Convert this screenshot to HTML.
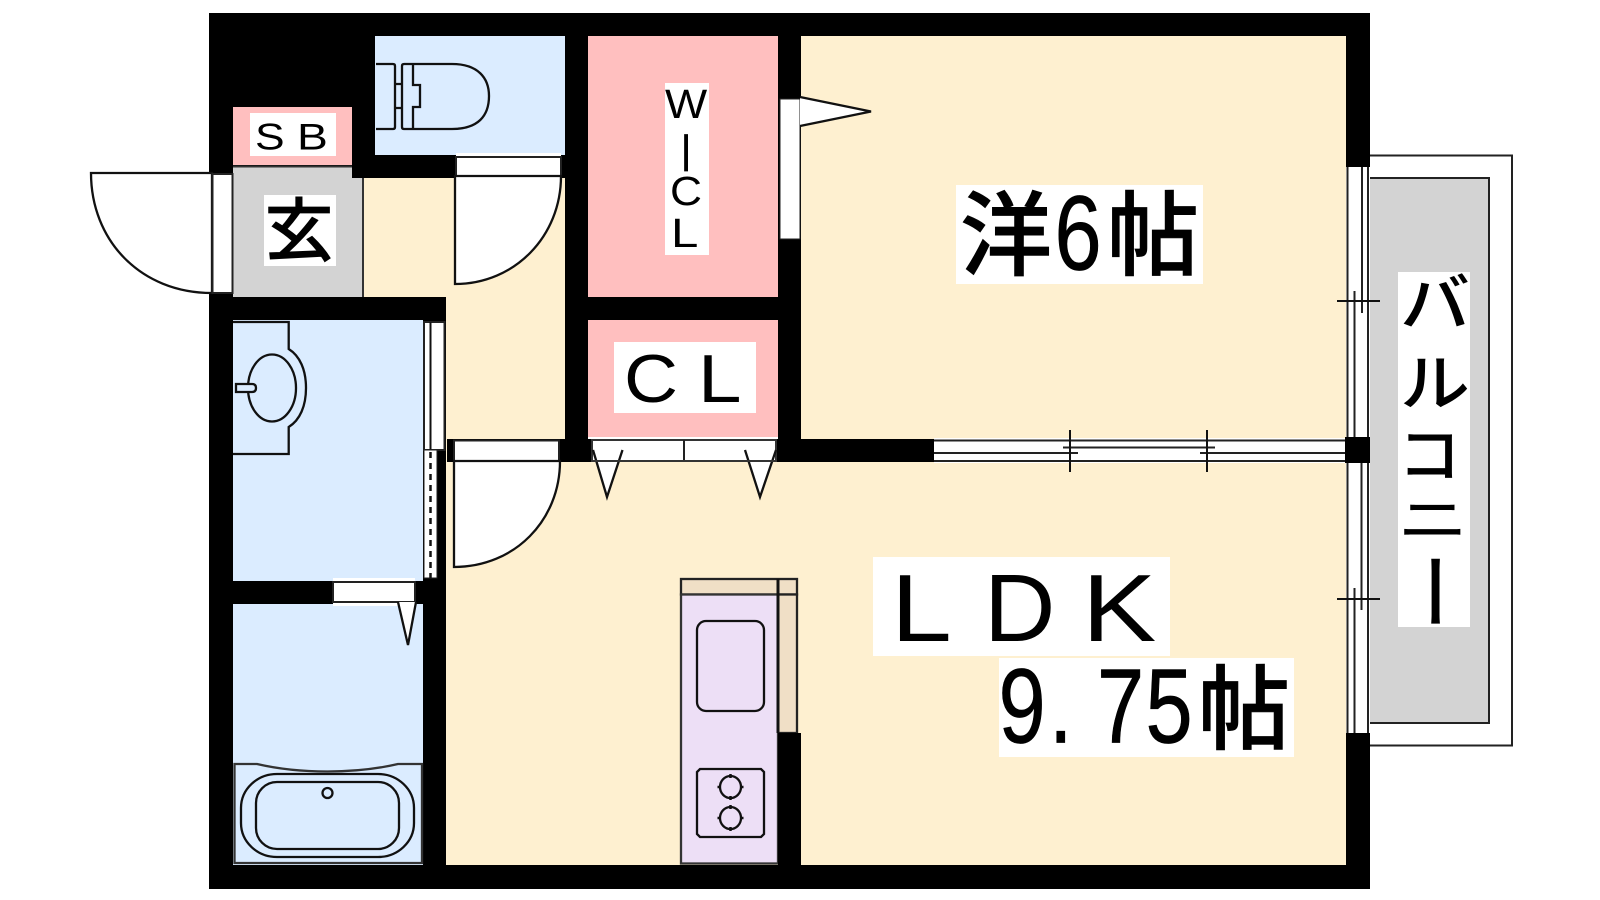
<!DOCTYPE html>
<html lang="ja">
<head>
<meta charset="utf-8">
<title>間取り図</title>
<style>
html,body{margin:0;padding:0;background:#fff;width:1600px;height:900px;overflow:hidden}
svg{display:block}
.l{font-family:"Liberation Sans",sans-serif;fill:#000}
.j{font-family:"Noto Sans CJK JP","Liberation Sans",sans-serif;fill:#000}
.h{stroke:#000;stroke-width:.7}
</style>
</head>
<body>
<svg xmlns="http://www.w3.org/2000/svg" width="1600" height="900" viewBox="0 0 1600 900">
<rect width="1600" height="900" fill="#fff"/>

<!-- balcony -->
<rect x="1360" y="155.500" width="152" height="590" fill="#fff" stroke="#222" stroke-width="2"/>
<rect x="1360" y="178" width="129" height="545" fill="#d3d3d3" stroke="#222" stroke-width="2"/>

<!-- walls -->
<rect x="209" y="13" width="1161" height="876" fill="#000"/>

<!-- rooms -->
<rect x="375" y="36" width="190" height="119" fill="#dbecff"/>
<rect x="588" y="36" width="190" height="261" fill="#ffbfbf"/>
<rect x="588" y="320" width="190" height="119" fill="#ffbfbf"/>
<rect x="801" y="36" width="545" height="403" fill="#fef0d0"/>
<rect x="233" y="107" width="119" height="58" fill="#ffbfbf"/>
<path d="M233 167H352V178H363V297H233Z" fill="#d3d3d3"/>
<path d="M363 178H565V439H446V297H363Z" fill="#fef0d0"/>
<rect x="233" y="320" width="190" height="261" fill="#dbecff"/>
<rect x="233" y="604" width="190" height="261" fill="#dbecff"/>
<rect x="446" y="462" width="900" height="403" fill="#fef0d0"/>
<rect x="778" y="733" width="23" height="156" fill="#000"/>
<path d="M233 166.500H352M363 178V297" stroke="#333" stroke-width="2" fill="none"/>

<!-- LDK door notch -->
<rect x="446" y="439" width="1" height="23" fill="#fef0d0"/>
<rect x="447" y="439" width="7" height="23" fill="#000"/>

<!-- toilet -->
<g fill="none" stroke="#111" stroke-width="2.300">
<path d="M376 64H393Q395 64 395 66V127Q395 129 393 129H376"/>
<path d="M395 84H402M395 108H402"/>
<path d="M404 64H452C478 64 489 78 489 96C489 116 478 129 452 129H404Q402 129 402 127V66Q402 64 404 64Z"/>
<path d="M413 64V85H420V107H413V129"/>
</g>

<!-- entry door -->
<path d="M212 173H91C91 240 140 293 212 293Z" fill="#fff" stroke="#111" stroke-width="2.300"/>
<rect x="212.500" y="174" width="20" height="119" fill="#fff" stroke="#222" stroke-width="2"/>

<!-- toilet door -->
<rect x="456" y="153" width="105" height="4" fill="#fff"/>
<rect x="456" y="157" width="105" height="19" fill="#fff" stroke="#222" stroke-width="2"/>
<path d="M455 176H561C561 236 515 284 455 284Z" fill="#fff" stroke="#111" stroke-width="2.300"/>

<!-- WIC window + door -->
<rect x="780" y="99" width="20" height="140" fill="#fff" stroke="#222" stroke-width="1"/>
<path d="M800 97L871 111.500L800 126" fill="#fff" stroke="#111" stroke-width="2.300"/>

<!-- washroom -->
<g fill="none" stroke="#111" stroke-width="2.300">
<path d="M233 322H288.700V349C300 356 306 370 306 388C306 406 300 420 288.700 427V454H233"/>
<ellipse cx="272" cy="388" rx="24" ry="33.500"/>
<path d="M236 384H252Q256 384 256 388Q256 392 252 392H236Z" fill="#dbecff"/>
</g>
<rect x="424" y="322" width="20.500" height="128" fill="#fff" stroke="#222" stroke-width="2"/>
<path d="M430.500 322V450" stroke="#111" stroke-width="2"/>
<rect x="424" y="450" width="13" height="128" fill="#fff" stroke="#222" stroke-width="1"/>
<path d="M430.500 452V578" stroke="#111" stroke-width="2.500" stroke-dasharray="6 5"/>

<!-- bath door -->
<rect x="333" y="578" width="82" height="28" fill="#fff"/>
<rect x="333" y="582" width="82" height="20" fill="#fff" stroke="#222" stroke-width="2"/>
<path d="M398 602L408 645L416 602" fill="#fff" stroke="#111" stroke-width="2.300"/>

<!-- tub -->
<g fill="none" stroke="#111" stroke-width="2.300">
<path d="M234.500 764H257C300 774 355 774 398 764H422V863H234.500Z" stroke="#333"/>
<rect x="241" y="774" width="173" height="83" rx="36" ry="34"/>
<rect x="256" y="782" width="143" height="67" rx="21" ry="21"/>
<circle cx="327.500" cy="793" r="5"/>
</g>

<!-- LDK door -->
<rect x="454" y="440.500" width="105" height="20.500" fill="#fff" stroke="#222" stroke-width="2"/>
<path d="M454 461H560C560 520 515 567 454 567Z" fill="#fff" stroke="#111" stroke-width="2.300"/>

<!-- CL sliding doors -->
<rect x="588" y="437" width="190" height="2" fill="#fff"/>
<rect x="592" y="440" width="184" height="21" fill="#fff" stroke="#333" stroke-width="2"/>
<path d="M684 440V461" stroke="#222" stroke-width="2"/>
<path d="M593 450L607 497L622.500 450" fill="#fff" stroke="none"/>
<path d="M745 450L760 497L776 450" fill="#fff" stroke="none"/>
<path d="M593 450L607 497L622.500 450M745 450L760 497L776 450" fill="none" stroke="#111" stroke-width="2.300"/>
<path d="M593 461H776" stroke="#333" stroke-width="2"/>

<!-- horizontal window -->
<rect x="934" y="438" width="411" height="25" fill="#fff"/>
<path d="M934 440.500H1345M934 461H1345M934 453H1078M1200 453H1345M1063 447.500H1215" stroke="#222" stroke-width="2" fill="none"/>
<path d="M1070 430V472M1207 430V472" stroke="#111" stroke-width="2" fill="none"/>

<!-- right windows -->
<rect x="1346" y="167" width="24" height="270" fill="#fff"/>
<rect x="1346" y="463" width="24" height="270" fill="#fff"/>
<path d="M1347.500 167V437M1368 167V437M1362 167V313M1354.500 291V437M1347.500 463V733M1368 463V733M1361.500 463V610M1354.500 588V733" stroke="#222" stroke-width="2" fill="none"/>
<path d="M1337 301H1380M1337 599H1380" stroke="#111" stroke-width="2" fill="none"/>
<rect x="1345" y="437" width="25" height="26" fill="#000"/>

<!-- kitchen -->
<rect x="681" y="579" width="116" height="15.500" fill="#f0dfc6" stroke="#222" stroke-width="2.300"/>
<rect x="778" y="594.500" width="19" height="138.500" fill="#f0dfc6" stroke="#222" stroke-width="2.300"/>
<rect x="681" y="594.500" width="97" height="269" fill="#eddff6" stroke="#333" stroke-width="2.300"/>
<path d="M778 579V733" stroke="#111" stroke-width="3"/>
<rect x="778" y="733" width="23" height="132" fill="#000"/>
<g fill="none" stroke="#111" stroke-width="2.300">
<rect x="697" y="621" width="67" height="90" rx="9" ry="9"/>
<path d="M700 769H761L764 772V834L761 837H700L697 834V772Z"/>
<ellipse cx="730.500" cy="787" rx="10.500" ry="11"/>
<ellipse cx="730.500" cy="818" rx="10.500" ry="11"/>
<path d="M730.500 774V778M730.500 796V800M717.500 787H721M740 787H743.500M730.500 805V809M730.500 827V831M717.500 818H721M740 818H743.500" stroke-width="2.500"/>
</g>

<!-- label backgrounds -->
<g fill="#fff">
<rect x="250" y="113" width="86" height="43"/>
<rect x="264" y="195" width="72" height="71"/>
<rect x="665" y="83" width="44" height="172"/>
<rect x="614" y="342" width="142" height="71"/>
<rect x="956" y="185" width="247" height="99"/>
<rect x="873" y="557" width="297" height="99"/>
<rect x="999" y="658" width="295" height="99"/>
<rect x="1398" y="272" width="72" height="355"/>
</g>

<!-- labels -->
<text class="l" transform="translate(255,149.500) scale(1.2,1)" font-size="37">S</text>
<text class="l" transform="translate(297,149.500) scale(1.25,1)" font-size="37">B</text>
<text class="j h" x="265" y="255" font-size="68" style="stroke-width:1.800">玄</text>
<text class="l" transform="translate(665,118) scale(1.09,1)" font-size="41">W</text>
<text class="l h" x="681" y="163" font-size="39">|</text>
<text class="l" transform="translate(670,205) scale(1.08,1)" font-size="41">C</text>
<text class="l" transform="translate(671,247) scale(1.2,1)" font-size="41">L</text>
<text class="l" transform="translate(624,402) scale(1.1,1)" font-size="68">C</text>
<text class="l" transform="translate(698,402) scale(1.15,1)" font-size="68">L</text>

<text class="j h" x="960" y="268" font-size="92" font-weight="500">洋</text>
<text class="l h" transform="translate(1054.500,269.500) scale(.8,1)" font-size="106">6</text>
<text class="j h" x="1107" y="268" font-size="92" font-weight="500">帖</text>

<text class="l" transform="translate(891,641) scale(1.14,1)" font-size="96">L</text>
<text class="l" transform="translate(984,641) scale(1.03,1)" font-size="96">D</text>
<text class="l" transform="translate(1082,641) scale(1.16,1)" font-size="96">K</text>

<text class="l h" transform="translate(998.500,742.500) scale(.8,1)" font-size="106">9</text>
<text class="l h" transform="translate(1049,742.500) scale(.8,1)" font-size="106">.</text>
<text class="l h" transform="translate(1097,742.500) scale(.8,1)" font-size="106">7</text>
<text class="l h" transform="translate(1145.500,742.500) scale(.8,1)" font-size="106">5</text>
<text class="j h" x="1198" y="742" font-size="92" font-weight="500">帖</text>

<text class="j" transform="translate(1400,325.500) scale(1,.9)" font-size="70" font-weight="500">バ</text>
<text class="j" transform="translate(1400,404.800) scale(1,.88)" font-size="70" font-weight="500">ル</text>
<text class="j" transform="translate(1398,476.500) scale(.9,.87)" font-size="70" font-weight="500">コ</text>
<text class="j" transform="translate(1398,537) scale(1,.7)" font-size="70" font-weight="500">ニ</text>
<text class="j" transform="translate(1339,551) rotate(90) scale(1.15,1) translate(0,-70)" font-size="70" font-weight="500">ー</text>
</svg>
</body>
</html>
